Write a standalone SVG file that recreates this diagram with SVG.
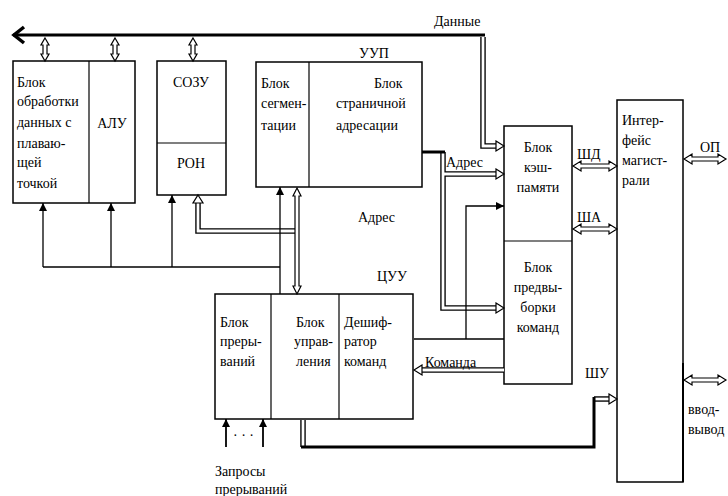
<svg xmlns="http://www.w3.org/2000/svg" width="728" height="496" viewBox="0 0 728 496">
<defs>
<marker id="fa" markerWidth="8" markerHeight="8" refX="8" refY="4" orient="auto" markerUnits="userSpaceOnUse">
<path d="M0,0 L8,4 L0,8 Z" fill="#000"/>
</marker>
<style>
.box{fill:#fff;stroke:#000;stroke-width:1.5}
.div{stroke:#000;stroke-width:1.2;fill:none}
.ln{stroke:#000;stroke-width:1.3;fill:none}
.thk{stroke:#000;stroke-width:3;fill:none}
.bo{stroke:#000;stroke-width:5.5;fill:none}
.bi{stroke:#fff;stroke-width:2.8;fill:none}
.hd{fill:#fff;stroke:#000;stroke-width:1.2}
.c{text-anchor:middle}
</style>
</defs>
<rect width="728" height="496" fill="#fff"/>
<g font-family="Liberation Serif, DejaVu Serif, serif" font-size="14" fill="#000">
<g id="fpu">
<rect class="box" x="13" y="61" width="122" height="142"/>
<line class="div" x1="89" y1="61" x2="89" y2="203"/>
<text x="17" y="87">Блок</text>
<text x="17" y="106">обработки</text>
<text x="17" y="127">данных с</text>
<text x="17" y="148">плаваю-</text>
<text x="17" y="167">щей</text>
<text x="17" y="188">точкой</text>
<text class="c" x="112" y="128">АЛУ</text>
</g>

<g id="ozu">
<rect class="box" x="157" y="61" width="69" height="134"/>
<line class="div" x1="157" y1="143" x2="226" y2="143"/>
<text class="c" x="191" y="87">СОЗУ</text>
<text class="c" x="191" y="168">РОН</text>
</g>

<g id="uup">
<rect class="box" x="256" y="62" width="166" height="125"/>
<line class="div" x1="309" y1="62" x2="309" y2="187"/>
<text x="359" y="58">УУП</text>
<text x="261" y="88">Блок</text>
<text x="261" y="108">сегмен-</text>
<text x="261" y="130">тации</text>
<text x="374" y="88">Блок</text>
<text x="336" y="108">страничной</text>
<text x="336" y="130">адресации</text>
</g>

<g id="cache">
<rect class="box" x="504" y="126" width="68" height="258"/>
<line class="div" x1="504" y1="241" x2="572" y2="241"/>
<text class="c" x="538" y="152">Блок</text>
<text class="c" x="538" y="172">кэш-</text>
<text class="c" x="538" y="192">памяти</text>
<text class="c" x="538" y="272">Блок</text>
<text class="c" x="538" y="292">предвы-</text>
<text class="c" x="538" y="312">борки</text>
<text class="c" x="538" y="332">команд</text>
</g>

<g id="iface">
<rect class="box" x="617" y="100" width="66" height="382"/>
<line class="thk" x1="683" y1="363" x2="683" y2="482" style="stroke-width:2"/>
<text x="622" y="125">Интер-</text>
<text x="622" y="145">фейс</text>
<text x="622" y="165">магист-</text>
<text x="622" y="185">рали</text>
</g>

<g id="cuu">
<rect class="box" x="215" y="294" width="198" height="125"/>
<line class="div" x1="271" y1="294" x2="271" y2="419"/>
<line class="div" x1="339" y1="294" x2="339" y2="419"/>
<text x="377" y="281">ЦУУ</text>
<text x="220" y="327">Блок</text>
<text x="220" y="346">преры-</text>
<text x="220" y="366">ваний</text>
<text x="296" y="327">Блок</text>
<text x="294" y="346">управ-</text>
<text x="296" y="366">ления</text>
<text x="344" y="327">Дешиф-</text>
<text x="344" y="346">ратор</text>
<text x="344" y="366">команд</text>
</g>

<g id="connectors">
<line class="thk" x1="13" y1="35" x2="485" y2="35"/>
<path d="M24,27 L14,35 L24,43" fill="none" stroke="#000" stroke-width="3.5"/>
<path class="bo" d="M483,37 V146 H497"/>
<path class="bo" d="M443,152 V308 H497 M443,174 H497"/>
<path class="bo" d="M504,370 H421"/>
<path class="bo" d="M296,231 H198 V203"/>
<path class="bo" d="M303,420 V447"/>
<path class="bo" d="M594,399 H610"/>
<path class="bi" d="M483,37 V146 H497"/>
<path class="bi" d="M443,152 V308 H497 M443,174 H497"/>
<path class="bi" d="M504,370 H421"/>
<path class="bi" d="M296,231 H198 V203"/>
<path class="bi" d="M303,420 V447"/>
<path class="bi" d="M594,399 H610"/>
<line class="thk" x1="422" y1="152" x2="445" y2="152"/>
<path class="thk" d="M301,447 H594 V397"/>
<polygon class="hd" points="496,141 504,146 496,151"/>
<polygon class="hd" points="496,169 504,174 496,179"/>
<polygon class="hd" points="496,303 504,308 496,313"/>
<polygon class="hd" points="422,365 414,370 422,375"/>
<polygon class="hd" points="198,195 203,203 193,203"/>
<polygon class="hd" points="609,394 617,399 609,404"/>
<polygon class="hd" points="45,38 49,45 47,45 47,54 49,54 45,61 41,54 43,54 43,45 41,45"/>
<polygon class="hd" points="115,38 119,45 117,45 117,54 119,54 115,61 111,54 113,54 113,45 111,45"/>
<polygon class="hd" points="193,38 197,45 195,45 195,54 197,54 193,61 189,54 191,54 191,45 189,45"/>
<polygon class="hd" points="297,188 301,196 299,196 299,286 301,286 297,294 293,286 295,286 295,196 293,196"/>
<polygon class="hd" points="573,166 581,161 581,164 609,164 609,161 617,166 609,171 609,168 581,168 581,171"/>
<polygon class="hd" points="573,229 581,224 581,227 609,227 609,224 617,229 609,234 609,231 581,231 581,234"/>
<polygon class="hd" points="684,159 692,154 692,157 718,157 718,154 726,159 718,164 718,161 692,161 692,164"/>
<polygon class="hd" points="684,380 692,375 692,378 718,378 718,375 726,380 718,385 718,382 692,382 692,385"/>
<path class="ln" d="M43,267 H280"/>
<path class="ln" d="M43,267 V203" marker-end="url(#fa)"/>
<path class="ln" d="M111,267 V203" marker-end="url(#fa)"/>
<path class="ln" d="M172,267 V195" marker-end="url(#fa)"/>
<path class="ln" d="M280,294 V187" marker-end="url(#fa)"/>
<path class="ln" d="M414,339 H504"/>
<path class="ln" d="M466,339 V206 H504" marker-end="url(#fa)"/>
<path class="ln" d="M226,447 V419" marker-end="url(#fa)" style="stroke-width:1.8"/>
<path class="ln" d="M263,447 V419" marker-end="url(#fa)" style="stroke-width:1.8"/>
</g>

<g id="labels">
<text x="434" y="26">Данные</text>
<text x="446" y="167">Адрес</text>
<text x="358" y="222">Адрес</text>
<text x="425" y="367">Команда</text>
<text x="577" y="159">ШД</text>
<text x="577" y="222">ША</text>
<text x="700" y="152">ОП</text>
<text x="585" y="378">ШУ</text>
<text x="688" y="414">ввод-</text>
<text x="688" y="434">вывод</text>
<text x="233" y="440">· · ·</text>
<text x="215" y="476">Запросы</text>
<text x="215" y="494">прерываний</text>
</g>
</g>
</svg>
